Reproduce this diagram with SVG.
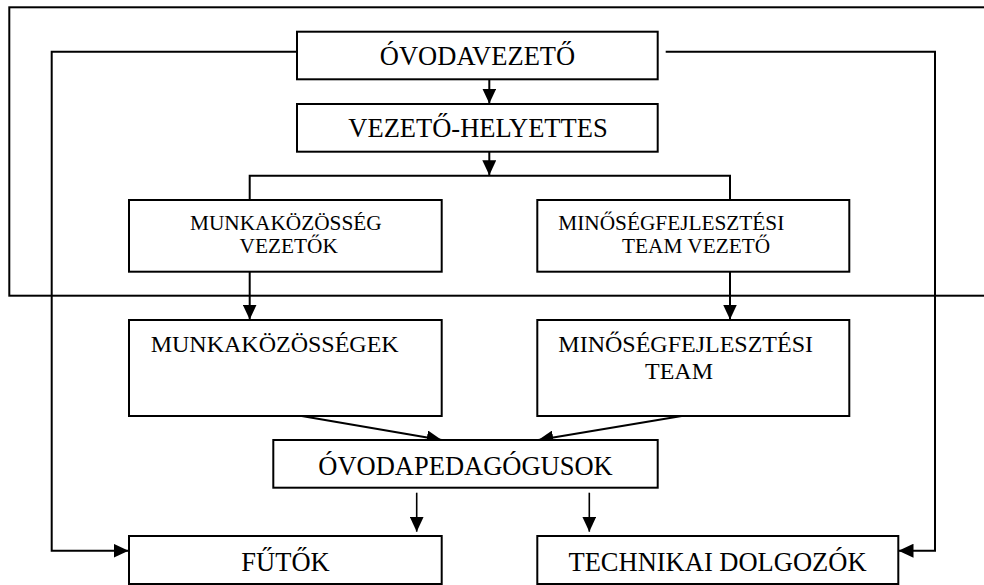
<svg xmlns="http://www.w3.org/2000/svg" width="984" height="585" viewBox="0 0 984 585">
<defs>
<style>
.box{fill:#fff;stroke:#000;stroke-width:2}
.ln{fill:none;stroke:#000;stroke-width:2}
.thin{fill:none;stroke:#000;stroke-width:1.6}
text{font-family:"Liberation Serif","Times New Roman",serif;fill:#000}
.big{font-size:26.5px}
.mid{font-size:24px}
.sm{font-size:21.3px}
.c{text-anchor:middle}
</style>
<marker id="ah" markerUnits="userSpaceOnUse" markerWidth="16" markerHeight="14" refX="15" refY="7" orient="auto">
<path d="M0,0 L15,7 L0,14 Z" fill="#000"/>
</marker>
</defs>
<rect width="984" height="585" fill="#fff"/>
<rect id="frame" x="9.3" y="7.3" width="1000" height="288.4" class="ln"/>
<g id="connectors">
<polyline class="ln" points="302,51.7 51.7,51.7 51.7,550.7 128.5,550.7" marker-end="url(#ah)"/>
<polyline class="ln" points="665.7,51.7 935,51.7 935,550.7 898.5,550.7" marker-end="url(#ah)"/>
<line class="ln" x1="489.3" y1="79.3" x2="489.3" y2="103.5" marker-end="url(#ah)"/>
<line class="ln" x1="489.3" y1="151.7" x2="489.3" y2="175.2" marker-end="url(#ah)"/>
<polyline class="ln" points="249.7,200 249.7,175.7 730,175.7 730,200"/>
<line class="ln" x1="249.7" y1="271.7" x2="249.7" y2="319.5" marker-end="url(#ah)"/>
<line class="ln" x1="730" y1="271.7" x2="730" y2="319.5" marker-end="url(#ah)"/>
<line class="ln" x1="301.7" y1="416" x2="441.7" y2="440" marker-end="url(#ah)"/>
<line class="ln" x1="681.7" y1="416" x2="538.3" y2="440" marker-end="url(#ah)"/>
<line class="thin" x1="416.7" y1="492.7" x2="416.7" y2="531.7" marker-end="url(#ah)"/>
<line class="thin" x1="589.3" y1="492.7" x2="589.3" y2="531.7" marker-end="url(#ah)"/>
</g>
<g id="ovodavezeto">
<rect class="box" x="297" y="31.7" width="360.7" height="47.6"/>
<text class="big c" x="477.5" y="65">ÓVODAVEZETŐ</text>
</g>
<g id="vezeto-helyettes">
<rect class="box" x="297" y="104" width="360.7" height="47.7"/>
<text class="big c" x="478" y="137.3">VEZETŐ-HELYETTES</text>
</g>
<g id="munkakozosseg-vezetok">
<rect class="box" x="129" y="200" width="312.7" height="71.7"/>
<text class="sm c" x="285.8" y="230">MUNKAKÖZÖSSÉG</text>
<text class="sm c" x="288.7" y="253.3">VEZETŐK</text>
</g>
<g id="minoseg-team-vezeto">
<rect class="box" x="537.3" y="200" width="312" height="71.7"/>
<text class="sm" x="558.3" y="230">MINŐSÉGFEJLESZTÉSI</text>
<text class="sm" x="622" y="253.3">TEAM VEZETŐ</text>
</g>
<g id="munkakozossegek">
<rect class="box" x="129" y="320" width="312.7" height="96"/>
<text class="mid" x="150.7" y="352.3">MUNKAKÖZÖSSÉGEK</text>
</g>
<g id="minoseg-team">
<rect class="box" x="537.3" y="320" width="312" height="96"/>
<text class="mid" x="558.3" y="352.3">MINŐSÉGFEJLESZTÉSI</text>
<text class="mid" x="645" y="379.3">TEAM</text>
</g>
<g id="ovodapedagogusok">
<rect class="box" x="273.3" y="440" width="384.4" height="47.7"/>
<text class="big c" x="465.5" y="475">ÓVODAPEDAGÓGUSOK</text>
</g>
<g id="futok">
<rect class="box" x="129" y="536" width="312.7" height="48"/>
<text class="big c" x="285.5" y="571">FŰTŐK</text>
</g>
<g id="technikai-dolgozok">
<rect class="box" x="537.3" y="536" width="361" height="48"/>
<text class="big c" x="717.5" y="571">TECHNIKAI DOLGOZÓK</text>
</g>
</svg>
